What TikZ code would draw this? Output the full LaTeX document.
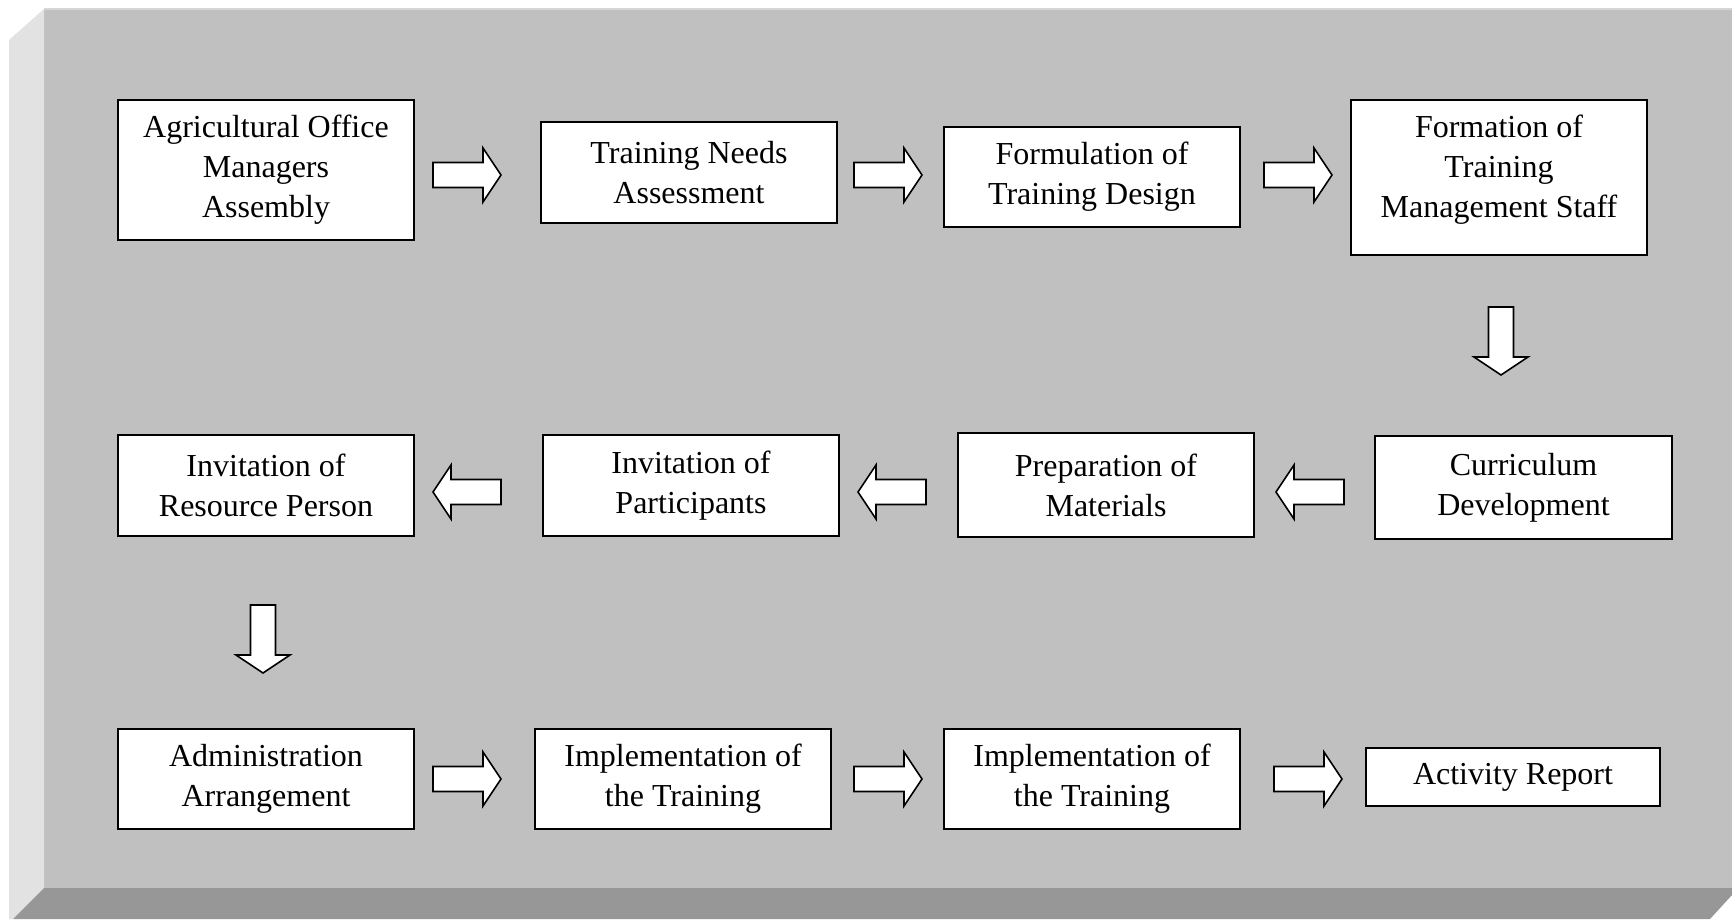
\documentclass[tikz,border=0pt]{standalone}
\usepackage{fontspec}
\setmainfont{Liberation Serif}
\definecolor{facegray}{HTML}{C0C0C0}
\definecolor{leftgray}{HTML}{E2E2E2}
\definecolor{bottomgray}{HTML}{979797}
\definecolor{topline}{HTML}{D6D6D6}
\begin{document}
\begin{tikzpicture}[x=1pt,y=-1pt,
  box/.style={draw=black, line width=1.6pt, fill=white, align=center, inner sep=0pt,
    font=\fontsize{32}{40}\selectfont},
  blockarrow/.pic={\draw[line width=1.6pt, fill=white, line join=miter]
    (0,-12.5) -- (50,-12.5) -- (50,-27) -- (68,0) -- (50,27) -- (50,12.5) -- (0,12.5) -- cycle;}]
\useasboundingbox (0,0) rectangle (1732,919);
% background bevel
\fill[white] (0,0) rectangle (1732,919);
\fill[facegray] (44,9) rectangle (1732,888);
\fill[topline] (44,8) rectangle (1732,10);
\fill[leftgray] (9,40) -- (44,9) -- (44,888) -- (13,919) -- (9,919) -- cycle;
\fill[bottomgray] (44,888) -- (1732,888) -- (1732,895) -- (1710,919) -- (13,919) -- cycle;
% row 1
\node[box, minimum width=296, minimum height=140] (b1) at (266,170) {Agricultural Office\\Managers\\Assembly};
\node[box, minimum width=296, minimum height=101] (b2) at (689,172.5) {Training Needs\\Assessment};
\node[box, minimum width=296, minimum height=100] (b3) at (1092,177) {Formulation of\\Training Design};
\node[box, minimum width=296, minimum height=155] (b4) at (1499,177.5) {Formation of\\Training\\Management Staff\\[-17pt]\mbox{}};
% row 2
\node[box, minimum width=297, minimum height=103] (b8) at (1523.5,487.5) {Curriculum\\Development};
\node[box, minimum width=296, minimum height=104] (b7) at (1106,485) {Preparation of\\Materials};
\node[box, minimum width=296, minimum height=101] (b6) at (691,485.5) {Invitation of\\Participants};
\node[box, minimum width=296, minimum height=101] (b5) at (266,485.5) {Invitation of\\Resource Person};
% row 3
\node[box, minimum width=296, minimum height=100] (b9) at (266,779) {Administration\\Arrangement};
\node[box, minimum width=296, minimum height=100] (b10) at (683,779) {Implementation of\\the Training};
\node[box, minimum width=296, minimum height=100] (b11) at (1092,779) {Implementation of\\the Training};
\node[box, minimum width=294, minimum height=58] (b12) at (1513,777) {Activity Report};
% block arrows
\pic (a1) at (433,175) {blockarrow};
\pic (a2) at (854,175) {blockarrow};
\pic (a3) at (1264,175) {blockarrow};
\pic[rotate=-90] (d1) at (1501,307) {blockarrow};
\pic[rotate=180] (a6) at (1344,492) {blockarrow};
\pic[rotate=180] (a5) at (926,492) {blockarrow};
\pic[rotate=180] (a4) at (501,492) {blockarrow};
\pic[rotate=-90] (d2) at (263,605) {blockarrow};
\pic (a7) at (433,779) {blockarrow};
\pic (a8) at (854,779) {blockarrow};
\pic (a9) at (1274,779) {blockarrow};
\end{tikzpicture}
\end{document}
